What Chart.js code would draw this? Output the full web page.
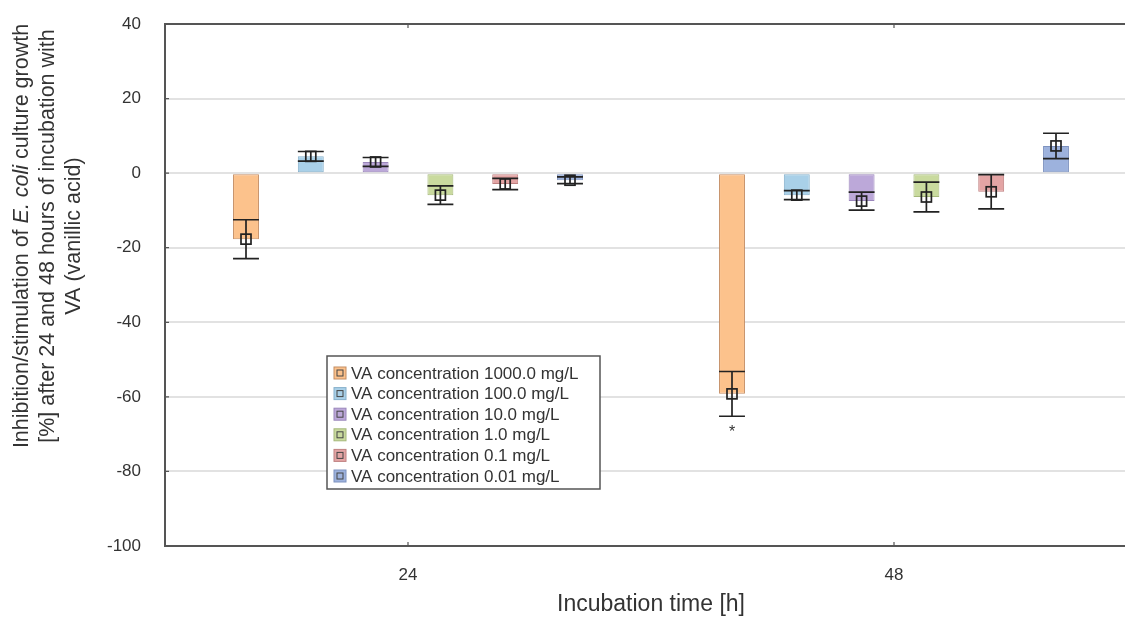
<!DOCTYPE html>
<html>
<head>
<meta charset="utf-8">
<script src="https://cdn.jsdelivr.net/npm/chart.js@4.4.0/dist/chart.umd.min.js"></script>
<style>
    html, body { margin: 0; padding: 0; background: #ffffff; overflow: hidden; }
    /* plot frame runs slightly past the right edge of the picture */
    #wrap { width: 1137px; height: 618px; position: relative; }
</style>
</head>
<body>
<div id="wrap"><canvas id="chart"></canvas></div>
<script>
// incubation time categories
const categories = ['24', '48'];

const seriesLabels = [
    'VA concentration 1000.0 mg/L',
    'VA concentration 100.0 mg/L',
    'VA concentration 10.0 mg/L',
    'VA concentration 1.0 mg/L',
    'VA concentration 0.1 mg/L',
    'VA concentration 0.01 mg/L'
];

// mean inhibition/stimulation [%] at 24 h and 48 h
const mean1000 = [-17.7, -59.2];
const mean100 = [4.5, -5.9];
const mean10 = [3.0, -7.5];
const mean1 = [-5.9, -6.4];
const mean01 = [-2.9, -5.0];
const mean001 = [-1.9, 7.3];

// error (half length of the whisker)
const err1000 = [5.2, 6.0];
const err100 = [1.3, 1.2];
const err10 = [1.2, 2.4];
const err1 = [2.5, 4.0];
const err01 = [1.5, 4.6];
const err001 = [0.9, 3.4];

const yTicks = [-100, -80, -60, -40, -20, 0, 20, 40];

const fills = ['#fcc28c', '#a9d0e8', '#bca8d9', '#c9da9e', '#e3a4a4', '#9db2dd'];
const borders = ['#c48d62', '#86b0cb', '#9a86bb', '#a5b87a', '#bf8080', '#7d92bf'];

const means = [mean1000, mean100, mean10, mean1, mean01, mean001];
const errs = [err1000, err100, err10, err1, err01, err001];

const datasets = seriesLabels.map((label, i) => ({
    label: label,
    data: means[i],
    errors: errs[i],
    backgroundColor: fills[i],
    borderColor: borders[i],
    borderWidth: 1,
    borderSkipped: false,
    barPercentage: 0.4,
    categoryPercentage: 0.8
}));

const textColor = '#333333';
const axisColor = '#555555';
const fontFamily = '"Liberation Sans", Arial';

const extras = {
    id: 'extras',
    afterDatasetsDraw(chart) {
        const ctx = chart.ctx;
        const y = chart.scales.y;
        ctx.save();
        ctx.strokeStyle = '#222222';
        ctx.lineWidth = 1.7;
        chart.data.datasets.forEach((ds, i) => {
            const meta = chart.getDatasetMeta(i);
            meta.data.forEach((bar, j) => {
                const m = ds.data[j];
                const e = ds.errors[j];
                const x = bar.x;
                const half = bar.width / 2;
                const yt = y.getPixelForValue(m + e);
                const yb = y.getPixelForValue(m - e);
                const ym = y.getPixelForValue(m);
                ctx.beginPath();
                ctx.moveTo(x, yt); ctx.lineTo(x, yb);
                ctx.moveTo(x - half, yt); ctx.lineTo(x + half, yt);
                ctx.moveTo(x - half, yb); ctx.lineTo(x + half, yb);
                ctx.stroke();
                ctx.strokeRect(x - 5, ym - 5, 10, 10);
            });
        });
        // significance mark under the 48 h / 1000 mg/L bar
        const b = chart.getDatasetMeta(0).data[1];
        ctx.fillStyle = textColor;
        ctx.font = '16px ' + fontFamily;
        ctx.textAlign = 'center';
        ctx.textBaseline = 'middle';
        ctx.fillText('*', b.x, y.getPixelForValue(-69.5));
        ctx.restore();
    },
    afterDraw(chart) {
        const ctx = chart.ctx;
        const a = chart.chartArea;
        const y = chart.scales.y;
        const x = chart.scales.x;
        ctx.save();
        // top frame line
        ctx.strokeStyle = axisColor;
        ctx.lineWidth = 2;
        ctx.beginPath();
        ctx.moveTo(a.left - 1, a.top);
        ctx.lineTo(a.right, a.top);
        ctx.stroke();
        // small inner tick marks
        ctx.lineWidth = 1.2;
        ctx.beginPath();
        yTicks.forEach(v => {
            const py = y.getPixelForValue(v);
            ctx.moveTo(a.left, py); ctx.lineTo(a.left + 4, py);
        });
        categories.forEach((c, i) => {
            const px = x.getPixelForValue(i);
            ctx.moveTo(px, a.top); ctx.lineTo(px, a.top + 4);
            ctx.moveTo(px, a.bottom); ctx.lineTo(px, a.bottom - 4);
        });
        ctx.stroke();

        // y axis title with italic species name
        const lines = [
            [['Inhibition/stimulation of ', ''], ['E. coli', 'italic '], [' culture growth', '']],
            [['[%] after 24 and 48 hours of incubation with', '']],
            [['VA (vanillic acid)', '']]
        ];
        const cy = a.top + 212;
        const xs = [22, 48, 74];
        ctx.fillStyle = textColor;
        ctx.textBaseline = 'middle';
        ctx.textAlign = 'left';
        lines.forEach((parts, li) => {
            let total = 0;
            parts.forEach(p => {
                ctx.font = p[1] + '21.5px ' + fontFamily;
                total += ctx.measureText(p[0]).width;
            });
            ctx.save();
            ctx.translate(xs[li], cy);
            ctx.rotate(-Math.PI / 2);
            let pos = -total / 2;
            parts.forEach(p => {
                ctx.font = p[1] + '21.5px ' + fontFamily;
                ctx.fillText(p[0], pos, 0);
                pos += ctx.measureText(p[0]).width;
            });
            ctx.restore();
        });

        // legend box
        const lx = 327, ly = 356, lw = 273, lh = 133;
        ctx.fillStyle = '#ffffff';
        ctx.fillRect(lx, ly, lw, lh);
        ctx.strokeStyle = '#555555';
        ctx.lineWidth = 1.5;
        ctx.strokeRect(lx, ly, lw, lh);
        ctx.font = '17px ' + fontFamily;
        chart.data.datasets.forEach((ds, i) => {
            const ry = ly + 17 + i * 20.6;
            ctx.fillStyle = ds.backgroundColor;
            ctx.fillRect(lx + 7, ry - 6, 12, 12);
            ctx.strokeStyle = ds.borderColor;
            ctx.lineWidth = 1;
            ctx.strokeRect(lx + 7, ry - 6, 12, 12);
            ctx.strokeStyle = '#444444';
            ctx.strokeRect(lx + 10, ry - 3, 6, 6);
            ctx.fillStyle = textColor;
            ctx.fillText(ds.label, lx + 24, ry + 1);
        });
        ctx.restore();
    }
};

new Chart(document.getElementById('chart'), {
    type: 'bar',
    data: {
        labels: categories,
        datasets: datasets
    },
    options: {
        responsive: true,
        maintainAspectRatio: false,
        animation: false,
        layout: {
            padding: {top: 24, right: 0, bottom: 0, left: 0}
        },
        plugins: {
            legend: {display: false},
            tooltip: {enabled: false}
        },
        scales: {
            x: {
                grid: {display: false, drawTicks: false},
                border: {display: true, color: axisColor, width: 2},
                ticks: {
                    color: textColor,
                    padding: 19,
                    font: {family: fontFamily, size: 17}
                },
                title: {
                    display: true,
                    text: 'Incubation time [h]',
                    color: textColor,
                    padding: {top: 0, bottom: 0},
                    font: {family: fontFamily, size: 23}
                },
                afterFit(scale) { scale.height = 72; }
            },
            y: {
                min: -100,
                max: 40,
                afterBuildTicks(scale) {
                    scale.ticks = yTicks.map(v => ({value: v}));
                },
                grid: {
                    color: '#e2e2e2',
                    lineWidth: 2,
                    drawTicks: true,
                    tickLength: 24,
                    tickColor: 'rgba(0,0,0,0)'
                },
                border: {display: true, color: axisColor, width: 2},
                ticks: {
                    color: textColor,
                    padding: 0,
                    font: {family: fontFamily, size: 17}
                },
                afterFit(scale) { scale.width = 165; }
            }
        }
    },
    plugins: [extras]
});
</script>
</body>
</html>
